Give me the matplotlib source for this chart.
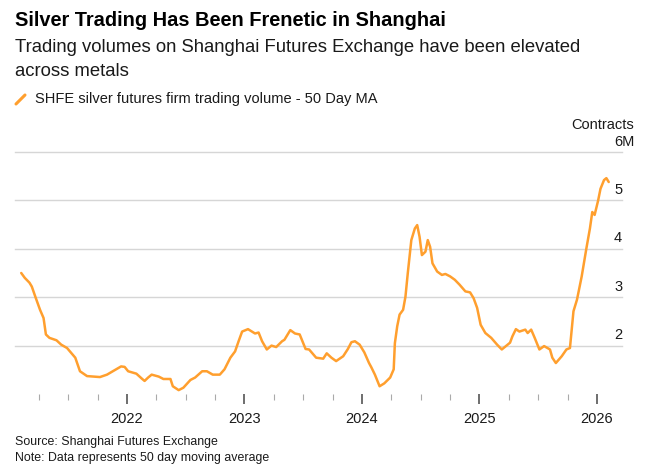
import matplotlib
matplotlib.use("Agg")
import matplotlib.pyplot as plt
from matplotlib.lines import Line2D
import matplotlib.transforms as mtransforms

plt.rcParams['font.family'] = ['Liberation Sans', 'DejaVu Sans']

# ---- data (decimal years, millions of contracts) ----
t = [2021.10, 2021.13, 2021.17, 2021.19, 2021.22, 2021.26, 2021.29, 2021.31, 2021.34, 2021.40,
     2021.44, 2021.49, 2021.56, 2021.60, 2021.66, 2021.77, 2021.83, 2021.88, 2021.95, 2021.98,
     2022.01, 2022.08, 2022.13, 2022.15, 2022.18, 2022.21, 2022.27, 2022.31, 2022.37, 2022.39,
     2022.44, 2022.48, 2022.54, 2022.58, 2022.64, 2022.68, 2022.73, 2022.79, 2022.83, 2022.88,
     2022.92, 2022.95, 2022.98, 2023.03, 2023.09, 2023.12, 2023.15, 2023.19, 2023.23, 2023.27,
     2023.32, 2023.34, 2023.39, 2023.43, 2023.47, 2023.52, 2023.55, 2023.61, 2023.67, 2023.70,
     2023.74, 2023.78, 2023.84, 2023.88, 2023.91, 2023.94, 2023.98, 2024.02, 2024.06, 2024.08,
     2024.11, 2024.15, 2024.19, 2024.24, 2024.27, 2024.28, 2024.30, 2024.32, 2024.35, 2024.37,
     2024.39, 2024.42, 2024.45, 2024.47, 2024.49, 2024.51, 2024.54, 2024.56, 2024.58, 2024.60,
     2024.64, 2024.68, 2024.71, 2024.75, 2024.79, 2024.83, 2024.88, 2024.92, 2024.95, 2024.98,
     2025.01, 2025.05, 2025.10, 2025.15, 2025.19, 2025.23, 2025.26, 2025.28, 2025.31, 2025.34,
     2025.39, 2025.41, 2025.44, 2025.47, 2025.51, 2025.55, 2025.60, 2025.62, 2025.65, 2025.70,
     2025.74, 2025.77, 2025.80, 2025.83, 2025.87, 2025.91, 2025.94, 2025.96, 2025.98, 2026.01,
     2026.03, 2026.06, 2026.08, 2026.10]
volume = [3.50, 3.40, 3.30, 3.22, 3.01, 2.74, 2.57, 2.23, 2.16, 2.11,
          2.02, 1.95, 1.75, 1.47, 1.37, 1.35, 1.40, 1.47, 1.57, 1.56,
          1.47, 1.42, 1.31, 1.27, 1.34, 1.40, 1.36, 1.31, 1.31, 1.16,
          1.08, 1.13, 1.29, 1.34, 1.47, 1.47, 1.40, 1.40, 1.51, 1.75,
          1.88, 2.09, 2.29, 2.34, 2.25, 2.27, 2.09, 1.92, 2.00, 1.97,
          2.09, 2.12, 2.32, 2.25, 2.23, 1.93, 1.92, 1.75, 1.73, 1.84,
          1.75, 1.68, 1.78, 1.93, 2.07, 2.09, 2.02, 1.86, 1.64, 1.55,
          1.40, 1.16, 1.22, 1.34, 1.51, 2.05, 2.40, 2.64, 2.74, 3.01,
          3.50, 4.18, 4.42, 4.49, 4.25, 3.87, 3.94, 4.18, 4.04, 3.70,
          3.53, 3.46, 3.48, 3.43, 3.36, 3.26, 3.12, 3.10, 2.98, 2.78,
          2.43, 2.26, 2.16, 2.02, 1.92, 2.00, 2.06, 2.19, 2.34, 2.29,
          2.33, 2.26, 2.33, 2.16, 1.92, 1.99, 1.92, 1.75, 1.64, 1.78,
          1.92, 1.95, 2.71, 2.95, 3.43, 4.01, 4.42, 4.76, 4.70, 5.00,
          5.24, 5.42, 5.46, 5.38]

y_ticks = [2, 3, 4, 5, 6]
y_tick_labels = ['2', '3', '4', '5', '6M']
x_major = [2022, 2023, 2024, 2025, 2026]
x_major_labels = ['2022', '2023', '2024', '2025', '2026']
x_minor = [2021.25, 2021.5, 2021.75, 2022.25, 2022.5, 2022.75, 2023.25, 2023.5, 2023.75,
           2024.25, 2024.5, 2024.75, 2025.25, 2025.5, 2025.75]

ORANGE = '#FF9F2E'
W, H = 654, 475
fig = plt.figure(figsize=(W / 100, H / 100), dpi=100)
fig.patch.set_facecolor('white')

def fx(px):
    return px / W

def fy(py):
    return 1 - py / H

ax = fig.add_axes([fx(15), fy(394), fx(622) - fx(15), fy(152) - fy(394)])
ax.set_xlim(2021.047, 2026.213)
ax.set_ylim(1.0, 6.0)
for s in ax.spines.values():
    s.set_visible(False)

for v in y_ticks:
    ax.axhline(v, color='#d6d6d6', lw=1.0, zorder=1, clip_on=False)

ax.plot(t, volume, color=ORANGE, lw=1.8, zorder=3, solid_joinstyle='round', solid_capstyle='round')

ax.set_yticks([])
ax.set_xticks(x_major)
ax.set_xticklabels(x_major_labels, fontsize=10.5, color='#1a1a1a')
ax.set_xticks(x_minor, minor=True)
ax.tick_params(axis='x', which='major', length=7, width=1.2, color='#555555', pad=6)
ax.tick_params(axis='x', which='minor', length=4, width=0.8, color='#aaaaaa')

# y tick labels left-aligned, sitting above the gridlines
trans = mtransforms.blended_transform_factory(fig.transFigure, ax.transData)
for v, lab in zip(y_ticks, y_tick_labels):
    ax.text(fx(614), v, lab, transform=trans + mtransforms.ScaledTranslation(0, 2.5 / 72, fig.dpi_scale_trans),
            ha='left', va='bottom', fontsize=10.5, color='#1a1a1a')
fig.text(fx(634), fy(125), 'Contracts', ha='right', va='center', fontsize=10.5, color='#1a1a1a')

# header
fig.text(fx(15), fy(21), 'Silver Trading Has Been Frenetic in Shanghai', ha='left', va='center',
         fontsize=14.4, fontweight='bold', color='#000000')
fig.text(fx(15), fy(48), 'Trading volumes on Shanghai Futures Exchange have been elevated',
         ha='left', va='center', fontsize=13.35, color='#1a1a1a')
fig.text(fx(15), fy(72), 'across metals', ha='left', va='center', fontsize=13.35, color='#1a1a1a')

# legend marker + label
fig.add_artist(Line2D([fx(16), fx(25)], [fy(104), fy(95)], color=ORANGE, lw=2.2,
                      solid_capstyle='round', transform=fig.transFigure))
fig.text(fx(35), fy(99), 'SHFE silver futures firm trading volume - 50 Day MA', ha='left', va='center',
         fontsize=10.5, color='#1a1a1a')

# footer
fig.text(fx(15), fy(442), 'Source: Shanghai Futures Exchange', ha='left', va='center',
         fontsize=8.9, color='#1a1a1a')
fig.text(fx(15), fy(458), 'Note: Data represents 50 day moving average', ha='left', va='center',
         fontsize=8.9, color='#1a1a1a')

fig.savefig('out.png', dpi=100, facecolor='white')
